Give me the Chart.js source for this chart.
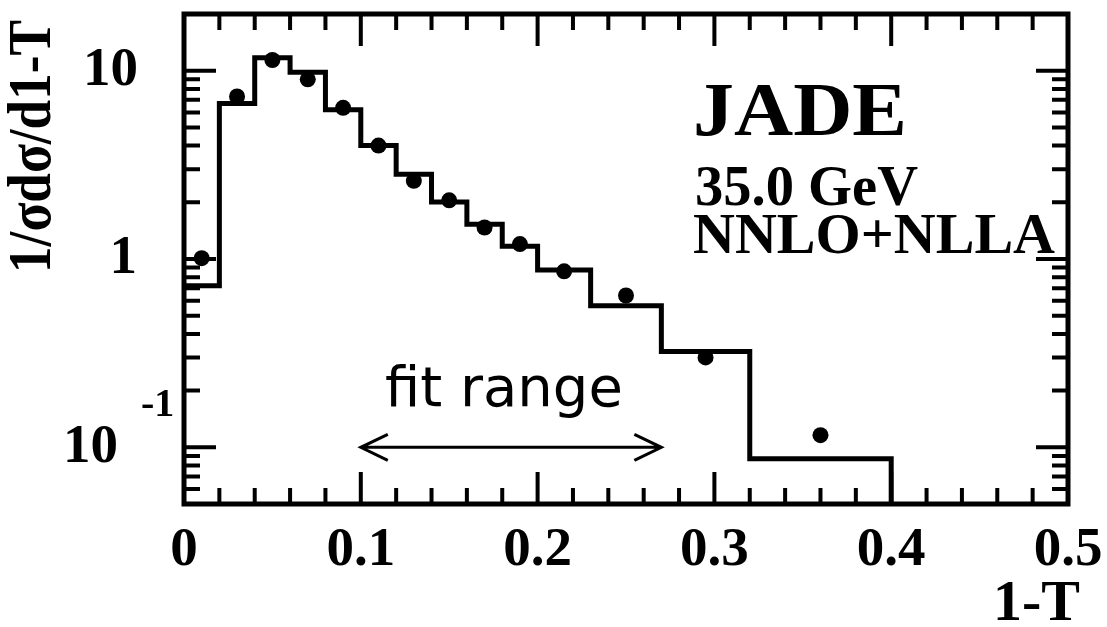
<!DOCTYPE HTML>
<html>
<head>
  <title>JADE 1-T</title>
  <script src="https://cdn.jsdelivr.net/npm/chart.js"></script>
  <style>
    body { margin: 0; background: #ffffff; }
    #wrap { width: 1107px; height: 627px; }
  </style>
</head>
<body>
  <div id="wrap"><canvas id="myChart"></canvas></div>

  <script type="text/javascript">
    // NNLO+NLLA prediction, histogram bins
    var binEdges = [0, 0.02, 0.04, 0.06, 0.08, 0.10, 0.12, 0.14, 0.16, 0.18, 0.20, 0.23, 0.27, 0.32, 0.40];
    var theory   = [0.72, 6.7, 11.7, 9.8, 6.2, 4.0, 2.82, 2.01, 1.53, 1.17, 0.875, 0.564, 0.323, 0.087];

    // JADE data, 35 GeV
    var dataX = [0.01, 0.03, 0.05, 0.07, 0.09, 0.11, 0.13, 0.15, 0.17, 0.19, 0.215, 0.25, 0.295, 0.36];
    var dataY = [1.01, 7.3, 11.4, 9.0, 6.35, 4.0, 2.6, 2.05, 1.47, 1.2, 0.86, 0.64, 0.30, 0.116];

    var xTicks = [0, 0.1, 0.2, 0.3, 0.4, 0.5];
    var yLabels = [10, 1, 0.1];
    var fitRange = [0.1, 0.27];

    var serif = '"Liberation Serif", "Times New Roman", serif';

    // histogram as step line: left edges + closing right edge, then drop to the floor
    var histPts = [];
    for (var i = 0; i < theory.length; i++) {
      histPts.push({ x: binEdges[i], y: theory[i] });
    }
    histPts.push({ x: binEdges[binEdges.length - 1], y: theory[theory.length - 1] });
    histPts.push({ x: binEdges[binEdges.length - 1], y: 0.01 });

    var dataPts = dataX.map(function (x, i) { return { x: x, y: dataY[i] }; });

    // text squeezed or stretched to a given width
    function fitText(c, s, x, y, width) {
      var w = c.measureText(s).width;
      c.save();
      c.translate(x, y);
      c.scale(width / w, 1);
      c.fillText(s, 0, 0);
      c.restore();
    }

    var framePlugin = {
      id: 'framePlugin',
      afterDatasetsDraw: function (chart) {
        var c = chart.ctx;
        var a = chart.chartArea;
        var xs = chart.scales.x;
        var ys = chart.scales.y;
        c.save();
        c.strokeStyle = '#000';
        c.fillStyle = '#000';

        // x ticks (bottom and top), minor every 0.02
        c.lineWidth = 4;
        c.beginPath();
        for (var i = 0; i <= 25; i++) {
          var px = xs.getPixelForValue(i * 0.02);
          var len = (i % 5 == 0) ? 32 : 16;
          c.moveTo(px, a.bottom); c.lineTo(px, a.bottom - len);
          c.moveTo(px, a.top); c.lineTo(px, a.top + len);
        }
        // y ticks (left and right), log minors
        var decades = [0.01, 0.1, 1, 10];
        for (var d = 0; d < decades.length; d++) {
          for (var k = 1; k <= 9; k++) {
            var v = k * decades[d];
            if (v < ys.min || v > ys.max) continue;
            var py = ys.getPixelForValue(v);
            var l = (k == 1) ? 32 : 16;
            c.moveTo(a.left, py); c.lineTo(a.left + l, py);
            c.moveTo(a.right, py); c.lineTo(a.right - l, py);
          }
        }
        c.stroke();

        // frame
        c.lineWidth = 5;
        c.strokeRect(a.left, a.top, a.right - a.left, a.bottom - a.top);

        // y tick labels
        c.font = 'bold 55px ' + serif;
        c.textAlign = 'right';
        c.textBaseline = 'middle';
        c.fillText('10', 138, ys.getPixelForValue(yLabels[0]));
        c.fillText('1', 137, ys.getPixelForValue(yLabels[1]));
        c.fillText('10', 118, ys.getPixelForValue(yLabels[2]));
        c.font = 'bold 40px ' + serif;
        c.textAlign = 'left';
        c.fillText('-1', 141, ys.getPixelForValue(yLabels[2]) - 42);

        // y title, rotated
        c.save();
        c.font = 'bold 62px ' + serif;
        var t = '1/\u03c3d\u03c3/d1-T';
        var w = c.measureText(t).width;
        c.translate(50, 273);
        c.rotate(-Math.PI / 2);
        c.scale(253 / w, 1);
        c.textAlign = 'left';
        c.textBaseline = 'alphabetic';
        c.fillText(t, 0, 0);
        c.restore();

        // x title
        c.font = 'bold 58px ' + serif;
        c.textAlign = 'right';
        c.textBaseline = 'alphabetic';
        c.fillText('1-T', 1080, 620);

        // labels
        c.textAlign = 'left';
        c.font = 'bold 76px ' + serif;
        fitText(c, 'JADE', 693, 135, 214);
        c.font = 'bold 56px ' + serif;
        fitText(c, '35.0 GeV', 695, 205, 223);
        fitText(c, 'NNLO+NLLA', 693, 253, 362);

        // fit range arrow
        var x0 = xs.getPixelForValue(fitRange[0]);
        var x1 = xs.getPixelForValue(fitRange[1]);
        var ya = ys.getPixelForValue(0.1);
        c.lineWidth = 3;
        c.beginPath();
        c.moveTo(x0, ya); c.lineTo(x1, ya);
        c.moveTo(x0 + 27, ya - 13); c.lineTo(x0, ya); c.lineTo(x0 + 27, ya + 13);
        c.moveTo(x1 - 27, ya - 13); c.lineTo(x1, ya); c.lineTo(x1 - 27, ya + 13);
        c.stroke();
        c.font = '56px "DejaVu Sans", sans-serif';
        c.fillText('fit range', 385, 406);

        c.restore();
      }
    };

    var ctx = document.getElementById('myChart');
    var myChart = new Chart(ctx, {
      type: 'scatter',
      data: {
        datasets: [
          {
            label: 'NNLO+NLLA',
            data: histPts,
            showLine: true,
            stepped: 'before',
            borderColor: '#000',
            borderWidth: 5,
            pointRadius: 0,
            fill: false
          },
          {
            label: 'JADE',
            data: dataPts,
            showLine: false,
            pointRadius: 8,
            pointBackgroundColor: '#000',
            pointBorderColor: '#000',
            pointBorderWidth: 0
          }
        ]
      },
      options: {
        responsive: true,
        maintainAspectRatio: false,
        animation: false,
        layout: { padding: { left: 0, right: 39, top: 14, bottom: 0 } },
        plugins: {
          legend: { display: false },
          tooltip: { enabled: false },
          title: { display: false }
        },
        scales: {
          x: {
            type: 'linear',
            min: 0,
            max: 0.5,
            grid: { display: false, drawTicks: false },
            border: { display: false },
            afterBuildTicks: function (scale) {
              scale.ticks = xTicks.map(function (v) { return { value: v }; });
            },
            afterFit: function (scale) {
              scale.height = 123;
              scale.paddingLeft = 0;
              scale.paddingRight = 0;
            },
            ticks: {
              color: '#000',
              padding: 14,
              maxRotation: 0,
              font: { family: serif, size: 55, weight: 'bold' },
              callback: function (v) { return String(v); }
            }
          },
          y: {
            type: 'logarithmic',
            min: 0.05,
            max: 20,
            grid: { display: false, drawTicks: false },
            border: { display: false },
            ticks: { display: false },
            afterFit: function (scale) { scale.width = 184; }
          }
        }
      },
      plugins: [framePlugin]
    });
  </script>
</body>
</html>
